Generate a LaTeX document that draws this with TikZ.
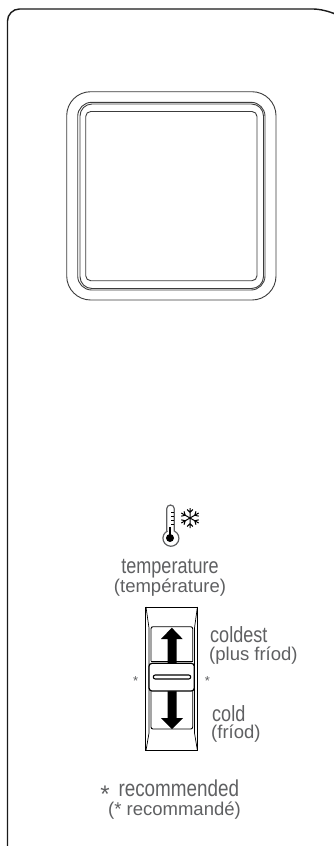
\documentclass[tikz,border=0pt]{standalone}
\usepackage{fontspec}
\setmainfont{Liberation Sans}
\newfontfamily\condfont[FakeStretch=.82]{Liberation Sans}
\usepackage{xcolor}
\definecolor{ink}{HTML}{1A1A1A}
\definecolor{label}{HTML}{5F6062}
\tikzset{panelline/.style={draw=ink,line width=1.4pt},
  frameline/.style={draw=ink!85,line width=.9pt},
  iconline/.style={draw=label,line width=1.2pt},
  mainlabel/.style={text=label,font=\condfont\fontsize{22}{22}\selectfont,inner sep=0pt},
  sublabel/.style={text=label,font=\fontsize{18.5}{18.5}\selectfont,inner sep=0pt},
  starlabel/.style={text=label,font=\fontsize{13}{13}\selectfont,inner sep=0pt},
  sliderline/.style={draw=black,line width=1pt}}
\begin{document}
\begin{tikzpicture}[x=1pt,y=-1pt]
\useasboundingbox (0,0) rectangle (334,846);
\fill[white] (0,0) rectangle (334,846);
% panel edge
\draw[panelline,rounded corners=12] (7.5,846) -- (7.5,9) -- (325,9) to (333,13);
% display window
\draw[frameline,rounded corners=24] (66.7,91.7) rectangle (276,300);
\draw[frameline,rounded corners=14] (77.7,102.3) rectangle (265,290);
\draw[frameline,rounded corners=12] (80,104) rectangle (263.5,288.5);
\draw[frameline,rounded corners=5] (85.7,111.5) rectangle (257,280.7);
% thermometer
\draw[iconline] (166.7,531) -- (166.7,508.8) arc[start angle=180,end angle=360,radius=3.8] -- (174.3,531)
  arc[start angle=-65,end angle=245,radius=8];
\fill[label] (170,538) circle (4);
\fill[label] (169,527) rectangle (171,536);
\foreach \y in {512,516,520,524}
  \draw[label,line width=.8pt] (171,\y) -- (174,\y);
% snowflake
\foreach \a in {30,90,...,330}
  \draw[label,line width=1pt,shift={(190,518)},rotate=\a] (0,0) -- (10,0) (5.5,0) -- (8.5,2.8) (5.5,0) -- (8.5,-2.8);
% slider body
\draw[sliderline] (145.7,607) rectangle (197.7,750.7);
\draw[sliderline,line width=.7pt] (146,607) -- (149,628) -- (149,733) -- (146,750.5);
\draw[sliderline,line width=.7pt] (197.4,607) -- (194.5,628) -- (194.5,733) -- (197.4,750.5);
\draw[sliderline,rounded corners=2,line width=.9pt] (151,661) -- (151,626.7) -- (192.7,626.7) -- (192.7,661);
\draw[sliderline,rounded corners=2,line width=.9pt] (151,691) -- (151,729) -- (192.7,729) -- (192.7,691);
\draw[sliderline,line width=.8pt] (151,661.5) -- (192.7,661.5);
% arrows
\fill[black] (171.8,627.7) -- (182.7,639) -- (176.5,639) -- (176.5,663) -- (167.7,663) -- (167.7,639) -- (161,639) -- cycle;
\fill[black] (172,729) -- (183,718) -- (176.5,718) -- (176.5,691) -- (167.7,691) -- (167.7,718) -- (161,718) -- cycle;
% thumb
\draw[sliderline,fill=white,line width=1.2pt,rounded corners=3] (149,663.3) rectangle (194.3,691);
\draw[sliderline,fill=white,line width=1.1pt,rounded corners=2] (153.3,675) rectangle (190.7,679);
% texts
\node[mainlabel,anchor=base] (temp) at (170,573) {temperature};
\node[sublabel,anchor=base] (tempfr) at (170,592.5) {(température)};
\node[mainlabel,anchor=base west] (coldest) at (210,642.7) {coldest};
\node[sublabel,anchor=base west] (coldestfr) at (209,660) {(plus fríod)};
\node[mainlabel,anchor=base west] (cold) at (212,721.7) {cold};
\node[sublabel,anchor=base west] (coldfr) at (211,738) {(fríod)};
\node[starlabel,anchor=base] (starl) at (135.7,685) {*};
\node[starlabel,anchor=base] (starr) at (207.3,685) {*};
\node[mainlabel,anchor=base west,font=\condfont\fontsize{23}{23}\selectfont] (rec) at (118.3,796.7) {recommended};
\node[sublabel,anchor=base west] (recfr) at (108,815) {(* recommandé)};
\node[anchor=base,text=label,font=\fontsize{24}{24}\selectfont,inner sep=0pt] (starb) at (105,802) {*};
\end{tikzpicture}
\end{document}
